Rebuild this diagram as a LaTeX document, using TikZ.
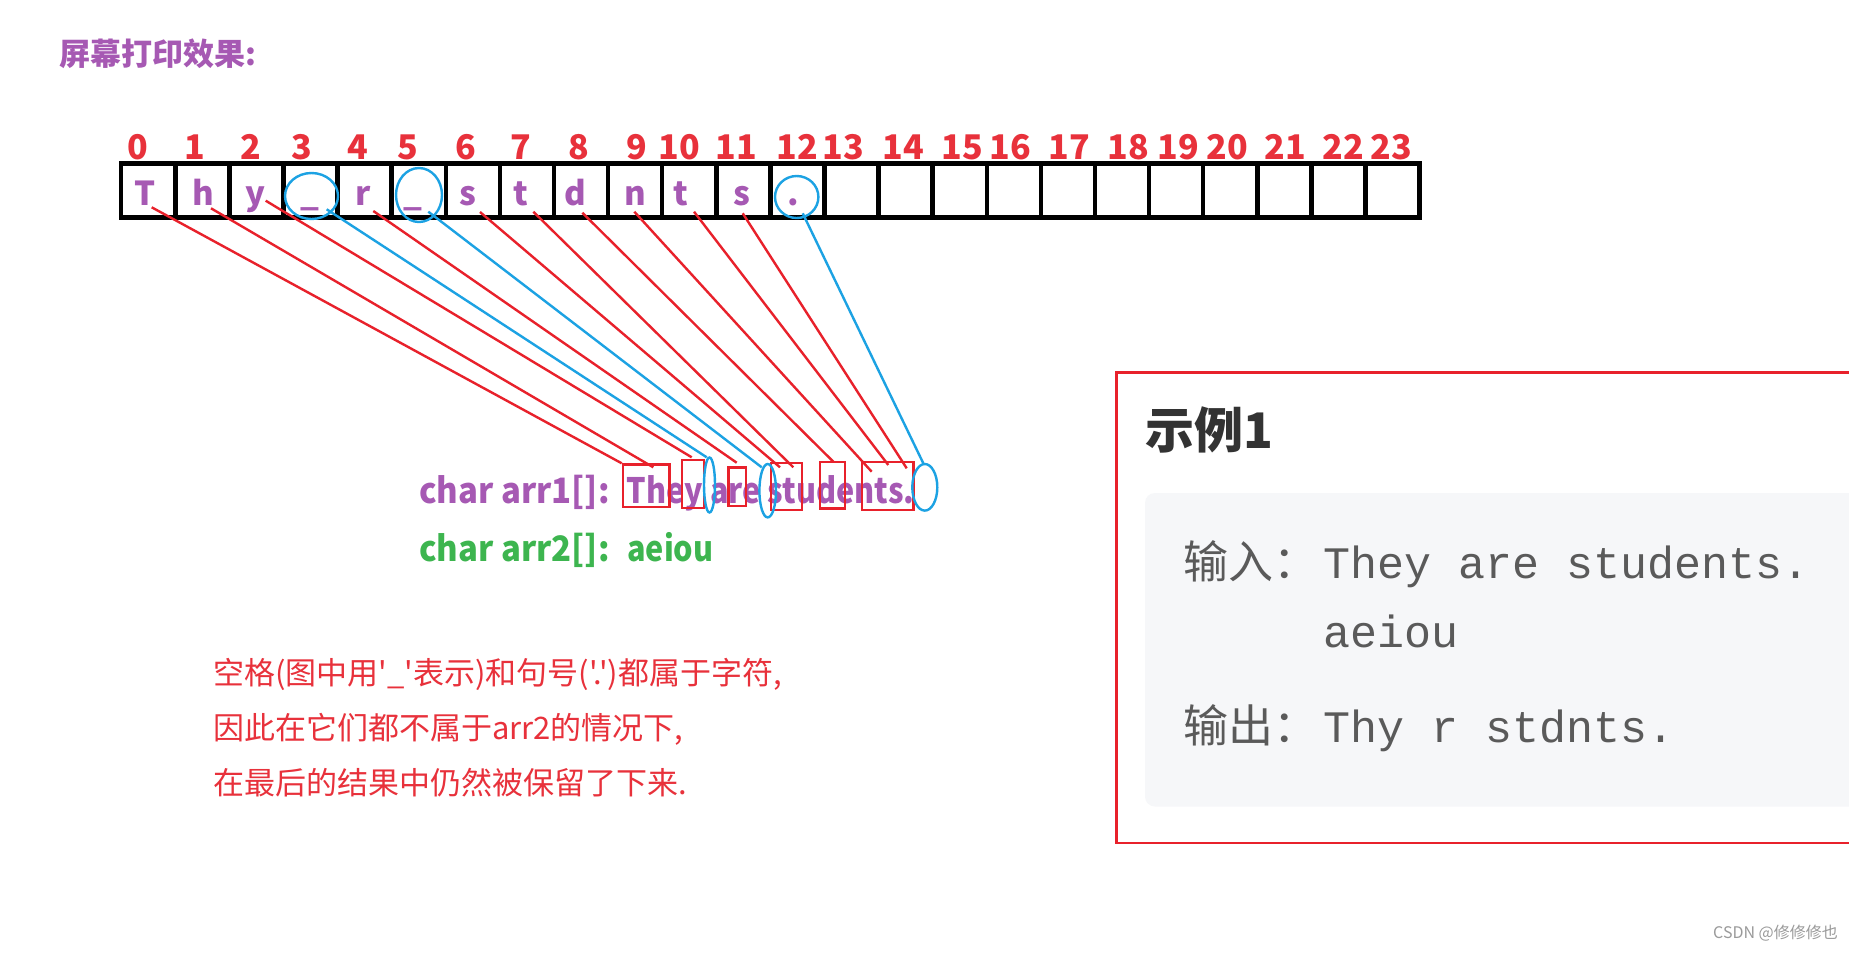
\documentclass[tikz,border=0pt]{standalone}
\usepackage{fontspec}
\usetikzlibrary{shapes.geometric}
\newfontfamily\cjk[Ligatures=TeXOff]{Noto Sans CJK SC}
\newfontfamily\cjklab[Ligatures=TeXOff,FakeStretch=0.94]{Noto Sans CJK SC}
\newfontfamily\cjkarr[Ligatures=TeXOff,FakeStretch=0.875]{Noto Sans CJK SC}
\newfontfamily\mono[Ligatures=TeXOff]{Liberation Mono}
\definecolor{pur}{HTML}{A659B3}
\definecolor{rd}{HTML}{E8313B}
\definecolor{ln}{HTML}{E8212B}
\definecolor{bl}{HTML}{1CA2E3}
\definecolor{gr}{HTML}{3DB54F}
\definecolor{gbox}{HTML}{F6F7F9}
\definecolor{dk}{HTML}{333333}
\definecolor{gy}{HTML}{5A5A5A}
\definecolor{wm}{HTML}{9A9A9A}
\begin{document}
\begin{tikzpicture}[x=1pt,y=-1pt,
  idx/.style={text=rd, font=\cjk\bfseries\fontsize{34}{40}\selectfont, inner sep=0, anchor=base},
  cell/.style={draw=black, line width=4.5pt, minimum width=54.1pt, minimum height=53.6pt, inner sep=0},
  lettr/.style={text=pur, font=\cjk\bfseries\fontsize{33}{40}\selectfont, inner sep=0, anchor=base},
  redln/.style={draw=ln, line width=2.4pt},
  blueln/.style={draw=bl, line width=2.4pt},
  rbox/.style={draw=ln, line width=2.4pt, inner sep=0, rectangle},
  bell/.style={ellipse, draw=bl, line width=2.4pt, inner sep=0},
  labtxt/.style={font=\cjklab\bfseries\fontsize{35}{42}\selectfont, inner sep=0, anchor=base west},
  arrtxt/.style={font=\cjkarr\bfseries\fontsize{35}{42}\selectfont, inner sep=0, anchor=base west},
  note/.style={text=rd, font=\cjk\fontsize{31}{37}\selectfont, inner sep=0, anchor=base west},
  cjkbig/.style={text=gy, font=\cjk\fontsize{45}{54}\selectfont, inner sep=0, anchor=base west},
  monotxt/.style={text=gy, font=\mono\fontsize{45}{54}\selectfont, inner sep=0, anchor=base west}
]
\useasboundingbox (0,0) rectangle (1849,953);
\fill[white] (0,0) rectangle (1849,953);

% title
\node[anchor=base west, text=pur, font=\cjk\bfseries\fontsize{31}{37}\selectfont, inner sep=0] (title) at (59,65) {屏幕打印效果:};

% index labels
\foreach \i/\xx in {0/138,1/194.5,2/251,3/302,4/358,5/408,6/466,7/521,8/579,9/637,10/679,11/736,12/797,13/843,14/903,15/962,16/1010,17/1069,18/1128,19/1178,20/1227,21/1285,22/1343,23/1391}
  \node[idx] (i\i) at (\xx,159) {\i};

% array cells
\foreach \i in {0,...,23}
  \node[cell] (c\i) at ({148.25+54.1*\i},190.5) {};

% letters in cells
\foreach \n/\xx/\t in {0/145/T,1/203.3/h,2/255.7/y,4/363.3/r,6/468.3/s,7/520.7/t,8/575/d,9/635/n,10/680.7/t,11/741.7/s,12/793.3/.}
  \node[lettr] (l\n) at (\xx,205) {\t};
\node[lettr] (l3) at (310,205) {\_};
\node[lettr] (l5) at (413.3,205) {\_};

% blue ellipses on the array
\node[bell, minimum width=53pt, minimum height=46pt] (e3) at (311.5,196) {};
\node[bell, minimum width=46pt, minimum height=54pt] (e5) at (419,195) {};
\node[bell, minimum width=43.4pt, minimum height=42pt] (e12) at (796.7,197) {};

% lower text
\node[labtxt, text=pur] (lab1) at (419,503) {char arr1[]:};
\node[arrtxt, text=pur] (arr1) at (626.7,503) {They are students.};
\node[labtxt, text=gr] (lab2) at (419,561) {char arr2[]:};
\node[arrtxt, text=gr] (arr2) at (627,561) {aeiou};

% red boxes
\node[rbox, minimum width=46.6pt, minimum height=42.4pt] (b1) at (646,485.5) {};
\node[rbox, minimum width=22.3pt, minimum height=47.7pt] (b2) at (692.85,483.85) {};
\node[rbox, minimum width=17.7pt, minimum height=38.7pt] (b3) at (737.15,486.65) {};
\node[rbox, minimum width=31pt, minimum height=47.3pt] (b4) at (786.2,486.35) {};
\node[rbox, minimum width=25pt, minimum height=46.6pt] (b5) at (832.5,485) {};
\node[rbox, minimum width=51.6pt, minimum height=48.3pt] (b6) at (887.5,485.85) {};

% blue ellipses on the text
\node[bell, minimum width=11pt, minimum height=55pt] (ea) at (709.5,485) {};
\node[bell, minimum width=16.6pt, minimum height=53.4pt] (eb) at (767.7,490.7) {};
\node[bell, minimum width=25pt, minimum height=46.6pt] (ec) at (924.8,487.3) {};

% connector end points
\coordinate (sT) at (151.7,207.3);  \coordinate (tT) at (621.7,463.3);
\coordinate (sh) at (211,208.3);    \coordinate (th) at (653.3,467.3);
\coordinate (sy) at (265.7,200.7);  \coordinate (ty) at (691.7,457.3);
\coordinate (s3) at (326.7,209.3);  \coordinate (t3) at (706.7,457.3);
\coordinate (sr) at (373.3,211);    \coordinate (tr) at (736.7,462.7);
\coordinate (s5) at (428.3,211.7);  \coordinate (t5) at (761.7,467.3);
\coordinate (s6) at (480,212);      \coordinate (t6) at (780,467.3);
\coordinate (s7) at (533.3,211.7);  \coordinate (t7) at (793.3,467.3);
\coordinate (s8) at (582.3,212.7);  \coordinate (t8) at (833.3,461.7);
\coordinate (s9) at (634.3,211.7);  \coordinate (t9) at (871.7,471.7);
\coordinate (s10) at (694,211.7);   \coordinate (t10) at (888.3,465);
\coordinate (s11) at (742.7,213.3); \coordinate (t11) at (906.7,468.3);
\coordinate (s12) at (802.7,213.3); \coordinate (t12) at (923.3,463.3);

\foreach \a in {T,h,y,r,6,7,8,9,10,11}
  \draw[redln] (s\a) -- (t\a);
\foreach \a in {3,5,12}
  \draw[blueln] (s\a) -- (t\a);

% explanation
\node[note] (n1) at (213,684.5) {空格(图中用'\_'表示)和句号('.')都属于字符,};
\node[note] (n2) at (213,739.5) {因此在它们都不属于arr2的情况下,};
\node[note] (n3) at (213,794.5) {在最后的结果中仍然被保留了下来.};

% example panel
\fill[gbox, rounded corners=10pt] (1849,493) -- (1145,493) -- (1145,806.5) -- (1849,806.5);
\draw[ln, line width=2.5pt] (1849,372.5) -- (1116.5,372.5) -- (1116.5,843) -- (1849,843);
\node[anchor=base west, text=dk, font=\cjk\bfseries\fontsize{49}{56}\selectfont, inner sep=0] (ex) at (1145,448) {示例1};
\node[cjkbig] (in) at (1183,578) {输入：};
\node[monotxt] (inv) at (1323,578) {They are students.};
\node[monotxt] (inv2) at (1323,647) {aeiou};
\node[cjkbig] (out) at (1183,742) {输出：};
\node[monotxt] (outv) at (1323,742) {Thy r stdnts.};

% watermark
\node[anchor=west, text=wm, font=\cjk\fontsize{16}{19}\selectfont, inner sep=0] (wmk) at (1713,933) {CSDN @修修修也};
\end{tikzpicture}
\end{document}
